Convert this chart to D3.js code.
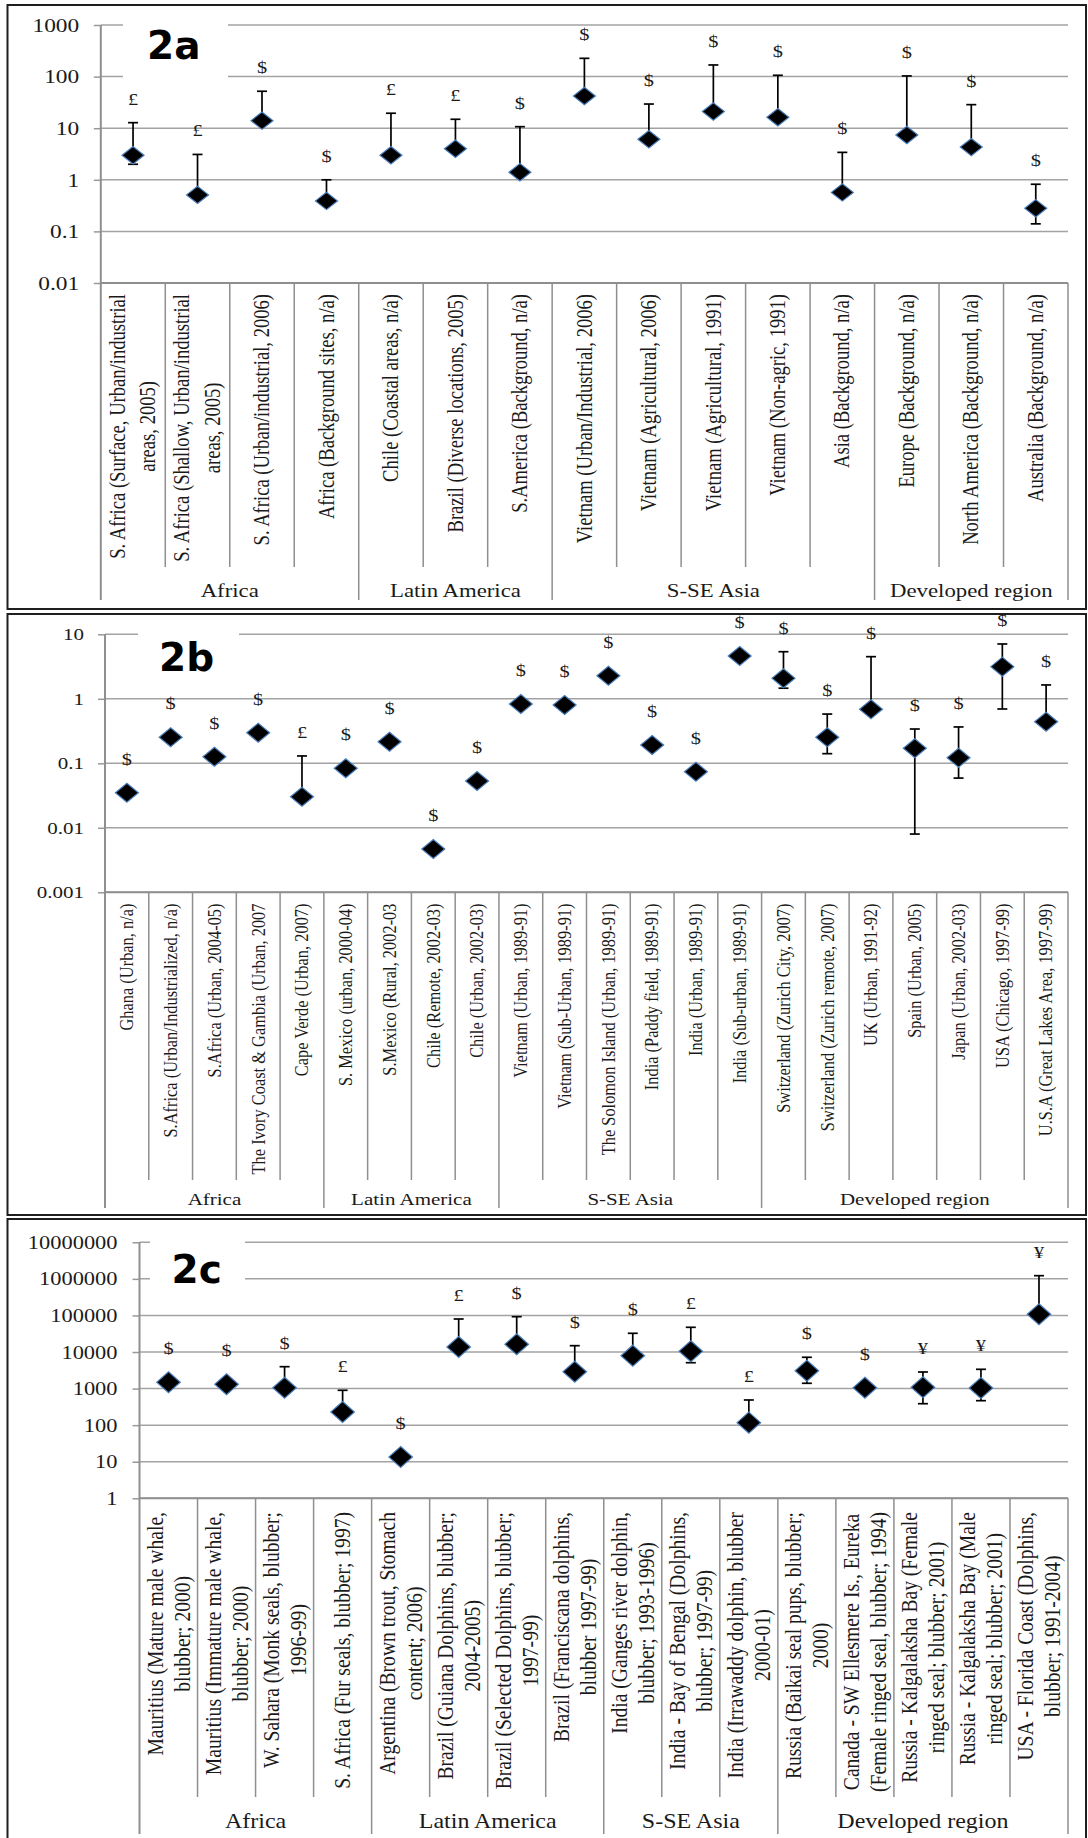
<!DOCTYPE html>
<html>
<head>
<meta charset="utf-8">
<script src="https://cdn.jsdelivr.net/npm/d3@7"></script>
<style>
  body { margin: 0; background: #fff; }
  svg { display: block; }
</style>
</head>
<body>
<script>
// ---- panel 2a ----
var aTicks = [0.01, 0.1, 1, 10, 100, 1000];
var aLabels = [
  ["S. Africa (Surface, Urban/industrial", "areas, 2005)"],
  ["S. Africa (Shallow, Urban/industrial", "areas, 2005)"],
  ["S. Africa (Urban/industrial, 2006)"],
  ["Africa (Background sites, n/a)"],
  ["Chile (Coastal areas, n/a)"],
  ["Brazil (Diverse locations, 2005)"],
  ["S.America (Background, n/a)"],
  ["Vietnam (Urban/Industrial, 2006)"],
  ["Vietnam (Agricultural, 2006)"],
  ["Vietnam (Agricultural, 1991)"],
  ["Vietnam (Non-agric, 1991)"],
  ["Asia (Background, n/a)"],
  ["Europe (Background, n/a)"],
  ["North America (Background, n/a)"],
  ["Australia (Background, n/a)"]
];
var aGroupNames = ["Africa", "Latin America", "S-SE Asia", "Developed region"];
var aGroupSizes = [4, 3, 5, 3];
var aValues = [3.0, 0.51, 14, 0.39, 3.0, 4.0, 1.4, 42, 6.1, 21, 16.3, 0.57, 7.4, 4.3, 0.28];
var aUpper  = [12.8, 3.1, 52, 1.0, 19.5, 14.9, 10.7, 226, 29.4, 168, 106, 3.4, 103, 28.6, 0.82];
var aLower  = [2.0, null, null, null, null, null, null, null, null, null, null, null, null, null, 0.14];
var aMarks  = ["£", "£", "$", "$", "£", "£", "$", "$", "$", "$", "$", "$", "$", "$", "$"];

// ---- panel 2b ----
var bTicks = [0.001, 0.01, 0.1, 1, 10];
var bLabels = [
  ["Ghana (Urban, n/a)"],
  ["S.Africa (Urban/Industrialized, n/a)"],
  ["S.Africa (Urban, 2004-05)"],
  ["The Ivory Coast & Gambia (Urban, 2007"],
  ["Cape Verde (Urban, 2007)"],
  ["S. Mexico (urban, 2000-04)"],
  ["S.Mexico (Rural, 2002-03"],
  ["Chile (Remote, 2002-03)"],
  ["Chile (Urban, 2002-03)"],
  ["Vietnam (Urban, 1989-91)"],
  ["Vietnam (Sub-Urban, 1989-91)"],
  ["The Solomon Island (Urban, 1989-91)"],
  ["India (Paddy field, 1989-91)"],
  ["India (Urban, 1989-91)"],
  ["India (Sub-urban, 1989-91)"],
  ["Switzerland (Zurich City, 2007)"],
  ["Switzerland (Zurich remote, 2007)"],
  ["UK (Urban, 1991-92)"],
  ["Spain (Urban, 2005)"],
  ["Japan (Urban, 2002-03)"],
  ["USA (Chicago, 1997-99)"],
  ["U.S.A (Great Lakes Area, 1997-99)"]
];
var bGroupNames = ["Africa", "Latin America", "S-SE Asia", "Developed region"];
var bGroupSizes = [5, 4, 6, 7];
var bValues = [0.035, 0.253, 0.126, 0.298, 0.0303, 0.0836, 0.216, 0.00469, 0.0532, 0.83, 0.80,
               2.28, 0.192, 0.074, 4.61, 2.08, 0.253, 0.687, 0.171, 0.122, 3.15, 0.44];
var bUpper  = [null, null, null, null, 0.13, null, null, null, null, null, null,
               null, null, null, null, 5.37, 0.58, 4.5, 0.34, 0.366, 7.08, 1.64];
var bLower  = [null, null, null, null, null, null, null, null, null, null, null,
               null, null, null, null, 1.46, 0.141, null, 0.008, 0.059, 0.695, 0.37];
var bMarks  = ["$", "$", "$", "$", "£", "$", "$", "$", "$", "$", "$",
               "$", "$", "$", "$", "$", "$", "$", "$", "$", "$", "$"];

// ---- panel 2c ----
var cTicks = [1, 10, 100, 1000, 10000, 100000, 1000000, 10000000];
var cLabels = [
  ["Mauritius (Mature male whale,", "blubber; 2000)"],
  ["Mauritius (Immature male whale,", "blubber; 2000)"],
  ["W. Sahara (Monk seals, blubber;", "1996-99)"],
  ["S. Africa (Fur seals, blubber; 1997)"],
  ["Argentina (Brown trout, Stomach", "content; 2006)"],
  ["Brazil (Guiana Dolphins, blubber;", "2004-2005)"],
  ["Brazil (Selected Dolphins, blubber;", "1997-99)"],
  ["Brazil (Franciscana dolphins,", "blubber 1997-99)"],
  ["India (Ganges river dolphin,", "blubber; 1993-1996)"],
  ["India - Bay of Bengal (Dolphins,", "blubber; 1997-99)"],
  ["India (Irrawaddy dolphin, blubber", "2000-01)"],
  ["Russia (Baikai seal pups, blubber;", "2000)"],
  ["Canada - SW Ellesmere Is., Eureka", "(Female ringed seal, blubber; 1994)"],
  ["Russia - Kalgalaksha Bay (Female", "ringed seal; blubber; 2001)"],
  ["Russia - Kalgalaksha Bay (Male", "ringed seal; blubber; 2001)"],
  ["USA - Florida Coast (Dolphins,", "blubber; 1991-2004)"]
];
var cGroupNames = ["Africa", "Latin America", "S-SE Asia", "Developed region"];
var cGroupSizes = [4, 4, 3, 5];
var cValues = [1486, 1310, 1058, 229, 13.5, 13700, 16260, 2897, 7940, 10470, 117, 3083, 1058, 1084, 1038, 107400];
var cUpper  = [null, null, 3970, 898, null, 80000, 92400, 14900, 32500, 47400, 488, 7180, null, 2843, 3367, 1222000];
var cLower  = [null, null, null, null, null, null, null, null, null, 5100, null, 1396, null, 386, 467, null];
var cMarks  = ["$", "$", "$", "£", "$", "£", "$", "$", "$", "£", "£", "$", "$", "¥", "¥", "¥"];

(function(){
  var canvasWidth = 1088;
  var canvasHeight = 1838;
  var sx = 1.2;   // the source picture is stretched sideways, text too
  var serif = "'Liberation Serif', 'Times New Roman', serif";
  var ink = "#1a1a1a";

  var svg = d3.select("body").append("svg")
    .attr("width", canvasWidth)
    .attr("height", canvasHeight);

  var panels = [
    { tag: "2a", labels: aLabels, groups: aGroupNames, sizes: aGroupSizes, values: aValues,
      upper: aUpper, lower: aLower, marks: aMarks, ticks: aTicks,
      box: [7.5, 5, 1086, 609], left: 100.8, right: 1068, top: 25, bottom: 283,
      catBottom: 567, groupBottom: 600, labelTop: 294, groupBase: 596.5,
      tickFont: 19.5, tickGap: 21.6, catFont: 18.6, lineGap: 30.6, groupFont: 19,
      dw: 11, dh: 8.7, tagX: 147, tagY: 59, tagBox: [123, 16, 228, 86] },
    { tag: "2b", labels: bLabels, groups: bGroupNames, sizes: bGroupSizes, values: bValues,
      upper: bUpper, lower: bLower, marks: bMarks, ticks: bTicks,
      box: [7.5, 614, 1086, 1215], left: 105, right: 1068, top: 634.3, bottom: 892.3,
      catBottom: 1180, groupBottom: 1208, labelTop: 903.5, groupBase: 1205,
      tickFont: 17.5, tickGap: 21, catFont: 16.4, lineGap: 27, groupFont: 17.5,
      dw: 11.5, dh: 9.5, tagX: 159, tagY: 670.5, tagBox: [138, 626, 239, 682] },
    { tag: "2c", labels: cLabels, groups: cGroupNames, sizes: cGroupSizes, values: cValues,
      upper: cUpper, lower: cLower, marks: cMarks, ticks: cTicks,
      box: [7.5, 1219, 1086, 1860], left: 139.5, right: 1068, top: 1242.3, bottom: 1498.3,
      catBottom: 1797, groupBottom: 1834, labelTop: 1512, groupBase: 1828,
      tickFont: 18.7, tickGap: 22, catFont: 19.6, lineGap: 27.1, groupFont: 20,
      dw: 11.8, dh: 10.5, tagX: 171.5, tagY: 1282.5, tagBox: [150, 1234, 245, 1292] }
  ];

  panels.forEach(drawPanel);

  function drawPanel(p) {
    var g = svg.append("g");

    var x = d3.scaleBand().domain(d3.range(p.labels.length)).range([p.left, p.right]);
    var y = d3.scaleLog().domain([p.ticks[0], p.ticks[p.ticks.length - 1]]).range([p.bottom, p.top]);
    var cx = function(i) { return x(i) + x.bandwidth() / 2; };

    // gridlines
    g.selectAll(".grid").data(p.ticks).enter().append("line")
      .attr("x1", p.left).attr("x2", p.right)
      .attr("y1", function(d) { return y(d); })
      .attr("y2", function(d) { return y(d); })
      .attr("stroke", "#a3a3a3")
      .attr("stroke-width", 1.5);

    // panel tag sits on a white patch that hides the gridlines
    g.append("rect")
      .attr("x", p.tagBox[0]).attr("y", p.tagBox[1])
      .attr("width", p.tagBox[2] - p.tagBox[0]).attr("height", p.tagBox[3] - p.tagBox[1])
      .attr("fill", "#fff");
    g.append("text")
      .attr("x", p.tagX).attr("y", p.tagY)
      .style("font-family", "'DejaVu Sans', Verdana, sans-serif")
      .style("font-weight", "bold")
      .style("font-size", "39px")
      .attr("fill", "#000")
      .text(p.tag);

    // y axis
    var axis = d3.axisLeft(y).tickValues(p.ticks)
      .tickFormat(function(d) { return String(d); })
      .tickSize(7).tickSizeOuter(0);
    var ax = g.append("g").attr("transform", "translate(" + p.left + ",0)").call(axis);
    ax.select(".domain").remove();
    ax.selectAll(".tick line").attr("stroke", "#999").attr("stroke-width", 1.5);
    ax.selectAll(".tick text")
      .attr("x", -p.tickGap / sx)
      .attr("transform", "scale(" + sx + ",1)")
      .attr("fill", ink)
      .style("font-family", serif)
      .style("font-size", p.tickFont + "px");

    // category table lines
    var line = function(x1, y1, x2, y2, w) {
      g.append("line").attr("x1", x1).attr("y1", y1).attr("x2", x2).attr("y2", y2)
        .attr("stroke", "#8f8f8f").attr("stroke-width", w);
    };
    line(p.left, p.top, p.left, p.groupBottom, 2);
    line(p.left, p.bottom, p.right, p.bottom, 2);
    line(p.right, p.bottom, p.right, p.groupBottom, 1.5);

    var groupStarts = [0];
    p.sizes.forEach(function(s, k) { groupStarts.push(groupStarts[k] + s); });
    d3.range(1, p.labels.length).forEach(function(i) {
      var isGroup = groupStarts.indexOf(i) >= 0;
      line(x(i), p.bottom, x(i), isGroup ? p.groupBottom : p.catBottom, 1.5);
    });

    // rotated category labels, lines centred in a block whose end meets the top
    g.selectAll(".cat").data(p.labels).enter().append("g")
      .attr("transform", function(d, i) {
        return "translate(" + cx(i) + "," + p.labelTop + ") scale(" + sx + ",1) rotate(-90)";
      })
      .each(function(lines) {
        var cell = d3.select(this);
        var n = lines.length;
        var texts = lines.map(function(t, k) {
          return cell.append("text")
            .attr("y", (k - (n - 1) / 2) * p.lineGap / sx)
            .attr("dy", "0.32em")
            .attr("text-anchor", "middle")
            .attr("fill", ink)
            .style("font-family", serif)
            .style("font-size", p.catFont + "px")
            .text(t);
        });
        var w = d3.max(texts, function(t) { return t.node().getComputedTextLength(); });
        texts.forEach(function(t) { t.attr("x", -w / 2); });
      });

    // group labels
    p.groups.forEach(function(name, k) {
      var x0 = x(groupStarts[k]);
      var x1 = groupStarts[k + 1] < p.labels.length ? x(groupStarts[k + 1]) : p.right;
      g.append("text")
        .attr("transform", "translate(" + (x0 + x1) / 2 + "," + p.groupBase + ") scale(" + sx + ",1)")
        .attr("text-anchor", "middle")
        .attr("fill", ink)
        .style("font-family", serif)
        .style("font-size", p.groupFont + "px")
        .text(name);
    });

    // error bars
    var cap = 5;
    p.values.forEach(function(v, i) {
      [p.upper[i], p.lower[i]].forEach(function(e) {
        if (e == null) return;
        g.append("line").attr("x1", cx(i)).attr("x2", cx(i))
          .attr("y1", y(v)).attr("y2", y(e))
          .attr("stroke", "#000").attr("stroke-width", 1.7);
        g.append("line").attr("x1", cx(i) - cap).attr("x2", cx(i) + cap)
          .attr("y1", y(e)).attr("y2", y(e))
          .attr("stroke", "#000").attr("stroke-width", 1.7);
      });
    });

    // diamonds
    var diamond = "M0," + (-p.dh) + "L" + p.dw + ",0L0," + p.dh + "L" + (-p.dw) + ",0Z";
    g.selectAll(".pt").data(p.values).enter().append("path")
      .attr("d", diamond)
      .attr("transform", function(d, i) { return "translate(" + cx(i) + "," + y(d) + ")"; })
      .attr("fill", "#000")
      .attr("stroke", "#4a7ebb")
      .attr("stroke-width", 1.2);

    // currency marks above each point or its error bar
    g.selectAll(".mark").data(p.marks).enter().append("text")
      .attr("transform", function(d, i) {
        var ly = y(p.values[i]) - 34;
        if (p.upper[i] != null) ly = Math.min(ly, y(p.upper[i]) - 24);
        return "translate(" + cx(i) + "," + ly + ") scale(" + sx + ",1)";
      })
      .attr("dy", "0.35em")
      .attr("text-anchor", "middle")
      .attr("fill", ink)
      .style("font-family", serif)
      .style("font-size", "17px")
      .text(function(d) { return d; });

    // panel frame
    g.append("rect")
      .attr("x", p.box[0]).attr("y", p.box[1])
      .attr("width", p.box[2] - p.box[0]).attr("height", p.box[3] - p.box[1])
      .attr("fill", "none")
      .attr("stroke", "#1e1e1e")
      .attr("stroke-width", 2);
  }
})();
</script>
</body>
</html>
